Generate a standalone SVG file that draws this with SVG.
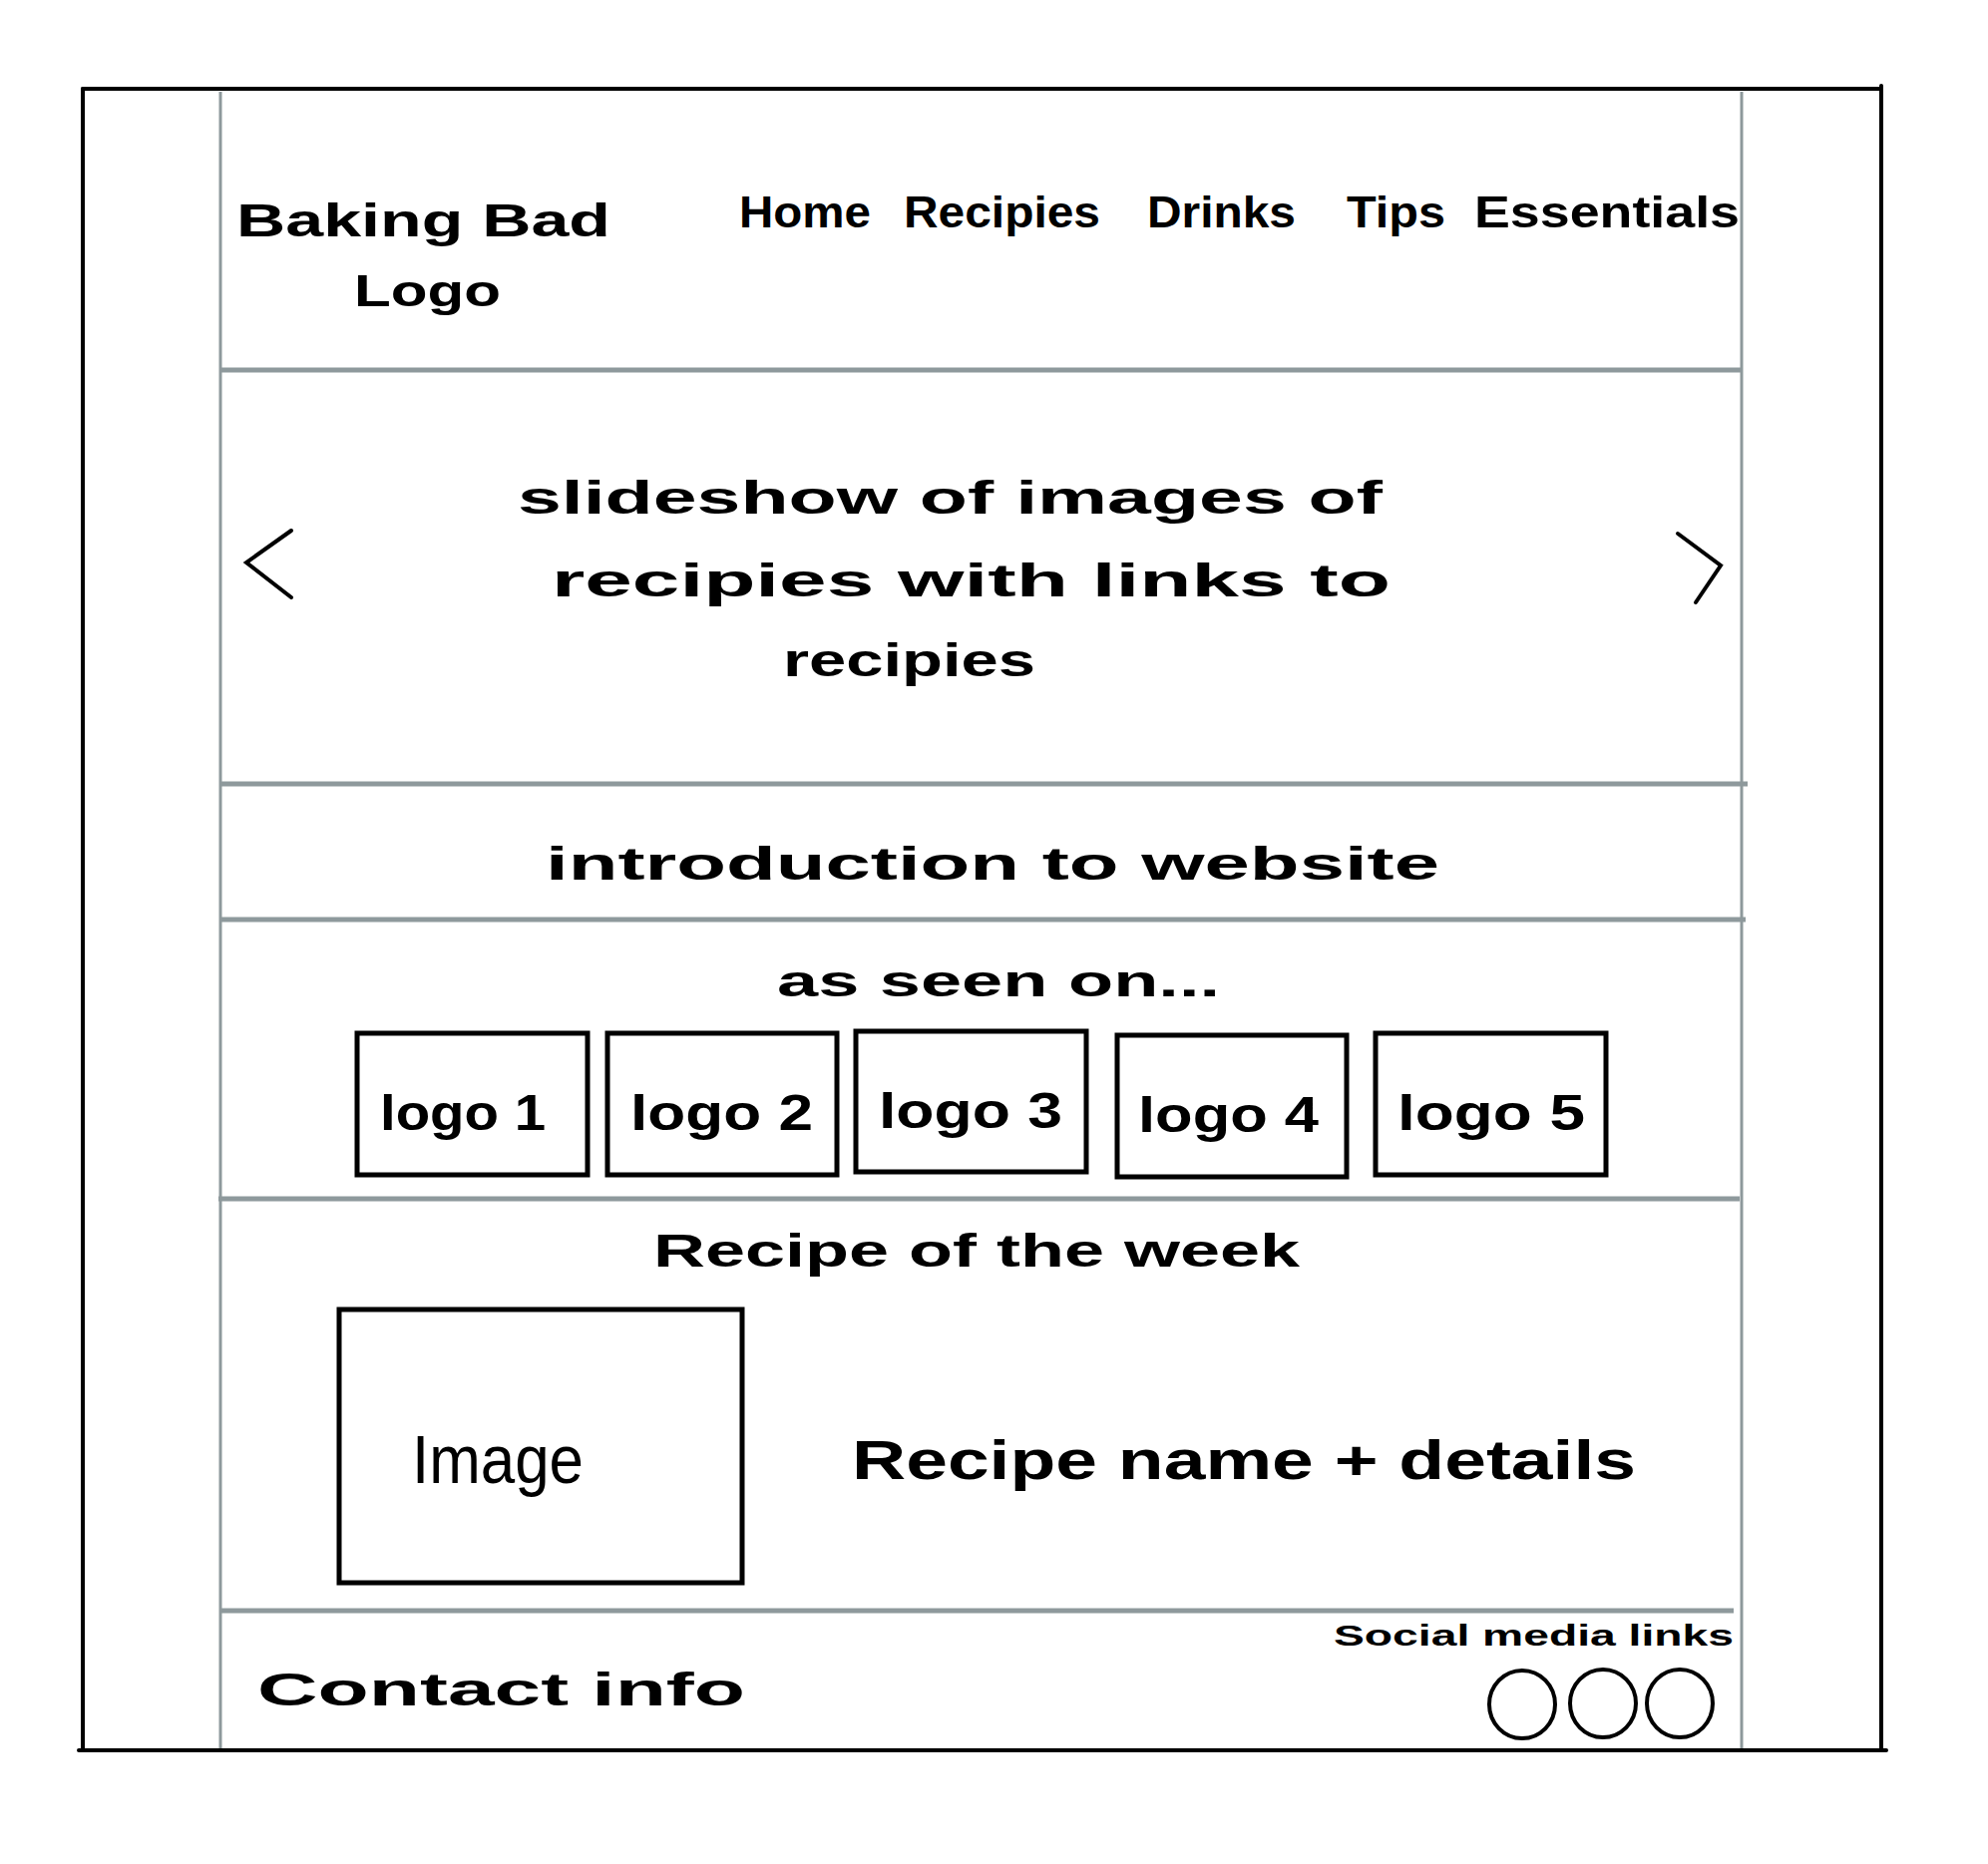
<svg xmlns="http://www.w3.org/2000/svg" width="1993" height="1869" viewBox="0 0 1993 1869">
<style>
.bk{stroke:#000;stroke-width:4;fill:none;stroke-linecap:round}
.gv{stroke:#8e999c;stroke-width:3;fill:none}
.gh{stroke:#8e999c;stroke-width:5;fill:none}
.box{stroke:#000;stroke-width:5;fill:#fff}
.t{font-family:"Liberation Sans",Arial,sans-serif;fill:#000;font-weight:bold}
</style>
<rect width="1993" height="1869" fill="#fff"/>
<g id="frame">
<line class="bk" x1="83" y1="89" x2="1886" y2="89"/>
<line class="bk" x1="83" y1="89" x2="83" y2="1755"/>
<line class="bk" x1="1886" y1="86" x2="1886" y2="1755"/>
<line class="bk" x1="79" y1="1755" x2="1891" y2="1755"/>
<line class="gv" x1="221" y1="92" x2="221" y2="1753"/>
<line class="gv" x1="1746" y1="92" x2="1746" y2="1753"/>
</g>
<g id="dividers">
<line class="gh" x1="221" y1="371" x2="1746" y2="371"/>
<line class="gh" x1="221" y1="786" x2="1752" y2="786"/>
<line class="gh" x1="221" y1="922" x2="1750" y2="922"/>
<line class="gh" x1="219" y1="1202" x2="1744" y2="1202"/>
<line class="gh" x1="221" y1="1615" x2="1738" y2="1615"/>
</g>
<g id="header">
<text class="t" x="237" y="237" font-size="46" textLength="375" lengthAdjust="spacingAndGlyphs">Baking Bad</text>
<text class="t" x="355" y="307" font-size="44" textLength="147" lengthAdjust="spacingAndGlyphs">Logo</text>
<text class="t" x="741" y="228" font-size="44" textLength="132" lengthAdjust="spacingAndGlyphs">Home</text>
<text class="t" x="906" y="228" font-size="44" textLength="197" lengthAdjust="spacingAndGlyphs">Recipies</text>
<text class="t" x="1150" y="228" font-size="44" textLength="149" lengthAdjust="spacingAndGlyphs">Drinks</text>
<text class="t" x="1350" y="228" font-size="44" textLength="99" lengthAdjust="spacingAndGlyphs">Tips</text>
<text class="t" x="1478" y="228" font-size="44" textLength="266" lengthAdjust="spacingAndGlyphs">Essentials</text>
</g>
<g id="slideshow">
<polyline class="bk" points="292,532 247,564 292,599"/>
<polyline class="bk" points="1682,535 1725,567 1700,604"/>
<text class="t" x="519" y="515" font-size="46" textLength="867" lengthAdjust="spacingAndGlyphs">slideshow of images of</text>
<text class="t" x="553" y="598" font-size="46" textLength="841" lengthAdjust="spacingAndGlyphs">recipies with links to</text>
<text class="t" x="785" y="678" font-size="46" textLength="253" lengthAdjust="spacingAndGlyphs">recipies</text>
</g>
<g id="intro">
<text class="t" x="547" y="882" font-size="46" textLength="896" lengthAdjust="spacingAndGlyphs">introduction to website</text>
</g>
<g id="as-seen-on">
<text class="t" x="779" y="999" font-size="44" textLength="444" lengthAdjust="spacingAndGlyphs">as seen on...</text>
<g id="logo1"><rect class="box" x="358" y="1036" width="231" height="142"/><text class="t" x="381" y="1133" font-size="50" textLength="166" lengthAdjust="spacingAndGlyphs">logo 1</text></g>
<g id="logo2"><rect class="box" x="609" y="1036" width="230" height="142"/><text class="t" x="632" y="1133" font-size="50" textLength="183" lengthAdjust="spacingAndGlyphs">logo 2</text></g>
<g id="logo3"><rect class="box" x="858" y="1034" width="231" height="141"/><text class="t" x="881" y="1131" font-size="50" textLength="184" lengthAdjust="spacingAndGlyphs">logo 3</text></g>
<g id="logo4"><rect class="box" x="1120" y="1038" width="230" height="142"/><text class="t" x="1141" y="1135" font-size="50" textLength="181" lengthAdjust="spacingAndGlyphs">logo 4</text></g>
<g id="logo5"><rect class="box" x="1379" y="1036" width="231" height="142"/><text class="t" x="1401" y="1133" font-size="50" textLength="188" lengthAdjust="spacingAndGlyphs">logo 5</text></g>
</g>
<g id="recipe-of-week">
<text class="t" x="655" y="1270" font-size="46" textLength="648" lengthAdjust="spacingAndGlyphs">Recipe of the week</text>
<g id="image-box"><rect class="box" x="340" y="1313" width="404" height="274"/><text class="t" x="413" y="1487" font-size="68" font-weight="normal" textLength="172" lengthAdjust="spacingAndGlyphs" style="font-weight:normal">Image</text></g>
<text class="t" x="854" y="1483" font-size="56" textLength="786" lengthAdjust="spacingAndGlyphs">Recipe name + details</text>
</g>
<g id="footer">
<text class="t" x="258" y="1710" font-size="46" textLength="489" lengthAdjust="spacingAndGlyphs">Contact info</text>
<text class="t" x="1337" y="1650" font-size="30" textLength="401" lengthAdjust="spacingAndGlyphs">Social media links</text>
<ellipse class="bk" cx="1526" cy="1709" rx="33" ry="34"/>
<ellipse class="bk" cx="1607" cy="1708" rx="33" ry="34"/>
<ellipse class="bk" cx="1684" cy="1708" rx="33" ry="34"/>
</g>
</svg>
